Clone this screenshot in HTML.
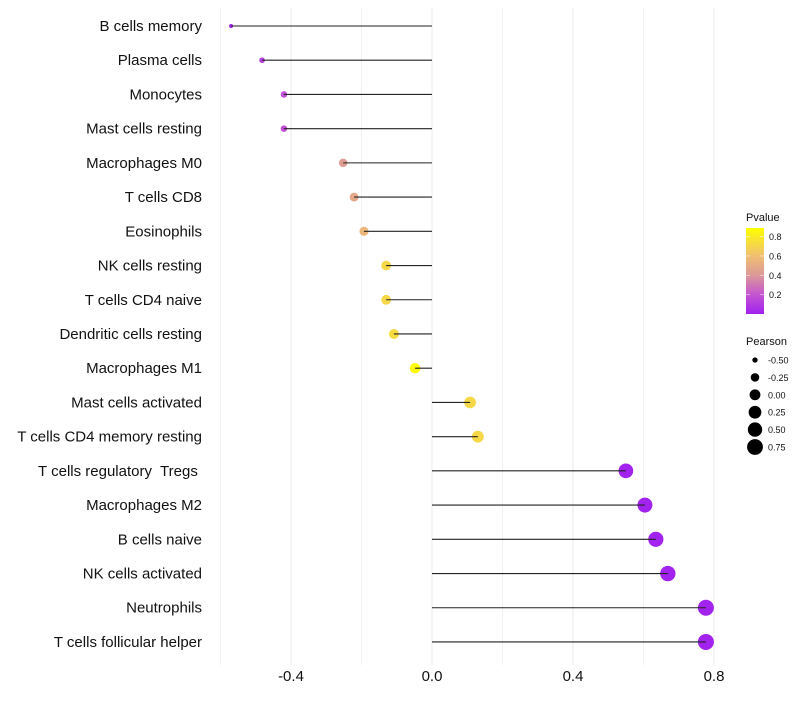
<!DOCTYPE html>
<html><head><meta charset="utf-8"><style>
body{margin:0;background:#fff;font-family:"Liberation Sans",sans-serif;}
svg text{font-family:"Liberation Sans",sans-serif;white-space:pre;}
</style></head><body>
<svg id="chart" width="800" height="700" xmlns="http://www.w3.org/2000/svg">
<defs><linearGradient id="pg" x1="0" y1="1" x2="0" y2="0">
<stop offset="0" stop-color="#a020f0"/><stop offset="0.227" stop-color="#c455d0"/><stop offset="0.455" stop-color="#dc9a98"/><stop offset="0.682" stop-color="#f0c070"/><stop offset="1" stop-color="#ffff00"/></linearGradient></defs>
<g id="grid"></g><g id="dots"></g><g id="marks"></g><g id="labels"></g>
</svg>
<script>
const categories=["B cells memory","Plasma cells","Monocytes","Mast cells resting","Macrophages M0","T cells CD8","Eosinophils","NK cells resting","T cells CD4 naive","Dendritic cells resting","Macrophages M1","Mast cells activated","T cells CD4 memory resting","T cells regulatory  Tregs ","Macrophages M2","B cells naive","NK cells activated","Neutrophils","T cells follicular helper"];
const pearson=[-0.570,-0.482,-0.42,-0.42,-0.252,-0.221,-0.193,-0.130,-0.130,-0.108,-0.048,0.108,0.130,0.550,0.604,0.635,0.669,0.777,0.777];
const pvalue=[0.02,0.12,0.18,0.18,0.42,0.48,0.55,0.7,0.7,0.72,0.88,0.7,0.7,0.01,0.01,0.01,0.01,0.01,0.01];
const xTicks=[-0.4,0.0,0.4,0.8];
const xMinor=[-0.6,-0.2,0.2,0.6];
const pTicks=[0.2,0.4,0.6,0.8];
const sizeTicks=[-0.5,-0.25,0,0.25,0.5,0.75];
const NS="http://www.w3.org/2000/svg";
const X=v=>432+v*352.5;
const Y=i=>26+i*34.22;
const R=v=>Math.sqrt(Math.max(1,29.4+44.5*v));
const stops=[[0,[160,32,240]],[0.2,[196,85,208]],[0.4,[220,154,152]],[0.6,[240,192,112]],[0.88,[255,255,0]]];
function col(p){p=Math.max(0,Math.min(0.88,p));
for(let k=1;k<stops.length;k++){if(p<=stops[k][0]){const a=stops[k-1],b=stops[k];const t=(p-a[0])/(b[0]-a[0]);
const c=a[1].map((x,j)=>Math.round(x+(b[1][j]-x)*t));return `rgb(${c.join(',')})`;}}
return 'rgb(255,255,0)';}
function mk(tag,attrs,parent,txt){const e=document.createElementNS(NS,tag);for(const k in attrs)e.setAttribute(k,attrs[k]);if(txt!==undefined)e.textContent=txt;document.getElementById(parent).appendChild(e);return e;}
xMinor.forEach(v=>{const l=mk('line',{x1:X(v),x2:X(v),y1:8,y2:665,stroke:'#f2f2f2','stroke-width':1},'grid');

});
xTicks.forEach(v=>{const l=mk('line',{x1:X(v),x2:X(v),y1:8,y2:665,stroke:'#ebebeb','stroke-width':1},'grid');


const t=mk('text',{x:X(v),y:681,'text-anchor':'middle','font-size':15,fill:'#111'},'labels',v.toFixed(1));

});
categories.forEach((c,i)=>{const y=Y(i);
const t=mk('text',{x:202,y:y+5,'text-anchor':'end','font-size':15,fill:'#111'},'labels',c);


const d=mk('circle',{cx:X(pearson[i]),cy:y,r:R(pearson[i]),fill:col(pvalue[i])},'dots');


const l=mk('line',{x1:X(0),x2:X(pearson[i]),y1:y,y2:y,stroke:'#222','stroke-width':1.1},'marks');

});
const lt=mk('text',{x:746,y:221,'font-size':11,fill:'#111'},'labels','Pvalue');


const bar=mk('rect',{x:746,y:228,width:18,height:86,fill:'url(#pg)'},'labels');


pTicks.forEach(p=>{const y=314-p*96.7;
mk('line',{x1:746,x2:750,y1:y,y2:y,stroke:'#fff','stroke-width':0.8,opacity:0.6},'labels');
mk('line',{x1:760,x2:764,y1:y,y2:y,stroke:'#fff','stroke-width':0.8,opacity:0.6},'labels');
const t=mk('text',{x:769,y:y+3.5,'font-size':9,fill:'#111'},'labels',p.toFixed(1));

});
const st=mk('text',{x:746,y:345,'font-size':11,fill:'#111'},'labels','Pearson');


sizeTicks.forEach((s,i)=>{const y=360+i*17.4;
const c=mk('circle',{cx:755,cy:y,r:R(s),fill:'#000'},'labels');


const t=mk('text',{x:768,y:y+3.5,'font-size':9,fill:'#111'},'labels',s.toFixed(2));

});
</script>
</body></html>
